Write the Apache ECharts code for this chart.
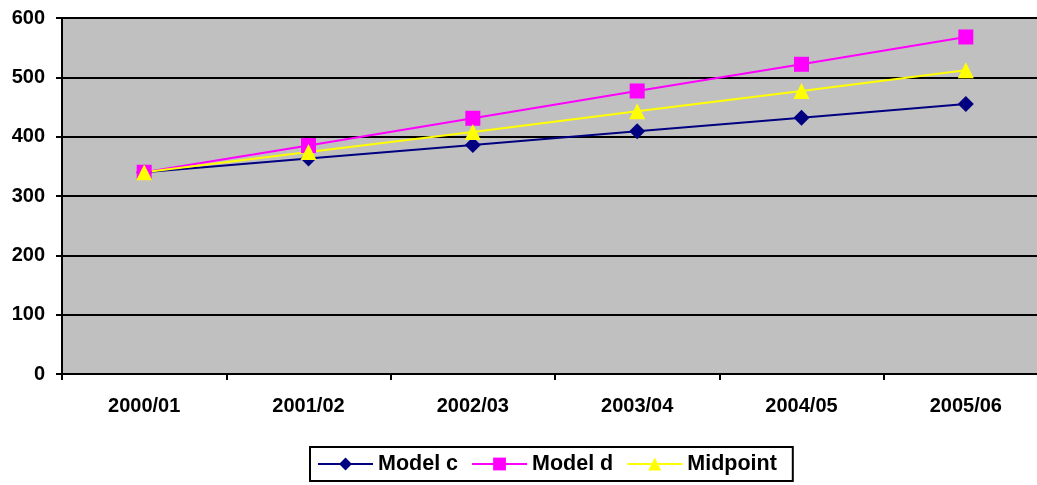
<!DOCTYPE html>
<html>
<head>
<meta charset="utf-8">
<script src="https://cdn.jsdelivr.net/npm/echarts@6/dist/echarts.min.js"></script>
<style>
  html, body { margin: 0; padding: 0; background: #fff; overflow: hidden; }
  /* the plot area runs slightly past the right edge of the window */
  #chart { width: 1048px; height: 485px; }
</style>
</head>
<body>
<div id="chart"></div>
<script>
// Seasons along the x axis
const categories = ['2000/01', '2001/02', '2002/03', '2003/04', '2004/05', '2005/06'];
// Projected values per model
const modelC = [340, 363, 386, 409, 432, 455];
const modelD = [340, 385, 431, 477, 522, 568];
const midpoint = [340, 374, 408, 443, 477, 512];
// Value axis ticks
const yTicks = [0, 100, 200, 300, 400, 500, 600];

const font = { fontFamily: 'Liberation Sans, Arial, sans-serif', fontWeight: 'bold', fontSize: 20, color: '#000' };

const chart = echarts.init(document.getElementById('chart'));

function lineSeries(name, data, color, symbol, size) {
  return {
    name: name,
    type: 'line',
    data: data,
    symbol: symbol,
    symbolSize: size,
    showAllSymbol: true,
    lineStyle: { color: color, width: 2 },
    itemStyle: { color: color, borderWidth: 0 },
    emphasis: { disabled: true },
    animation: false
  };
}

chart.setOption({
  animation: false,
  backgroundColor: '#fff',
  grid: {
    left: 62, right: 0, top: 18, bottom: 111,
    show: true,
    backgroundColor: '#c0c0c0',
    borderColor: '#808080',
    borderWidth: 2
  },
  xAxis: {
    type: 'category',
    data: categories,
    boundaryGap: true,
    axisLine: { lineStyle: { color: '#000', width: 2 } },
    axisTick: { show: true, length: 6, lineStyle: { color: '#000', width: 2 } },
    axisLabel: Object.assign({ margin: 22 }, font),
    splitLine: { show: false }
  },
  yAxis: {
    type: 'value',
    min: yTicks[0],
    max: yTicks[yTicks.length - 1],
    interval: 100,
    axisLine: { show: true, lineStyle: { color: '#000', width: 2 } },
    axisTick: { show: true, length: 6, lineStyle: { color: '#000', width: 2 } },
    axisLabel: Object.assign({ margin: 17 }, font),
    splitLine: { show: true, lineStyle: { color: '#000', width: 2 } }
  },
  legend: {
    left: 310, top: 447,
    itemWidth: 55, itemHeight: 16, itemGap: 13,
    padding: [6, 16, 6, 7],
    borderColor: '#000', borderWidth: 2,
    backgroundColor: '#fff',
    textStyle: Object.assign({}, font, { fontSize: 21.5 }),
    data: ['Model c', 'Model d', 'Midpoint']
  },
  series: [
    lineSeries('Model c', modelC, '#000080', 'diamond', 16),
    lineSeries('Model d', modelD, '#ff00ff', 'rect', 15),
    lineSeries('Midpoint', midpoint, '#ffff00', 'triangle', 16)
  ]
});
</script>
</body>
</html>
